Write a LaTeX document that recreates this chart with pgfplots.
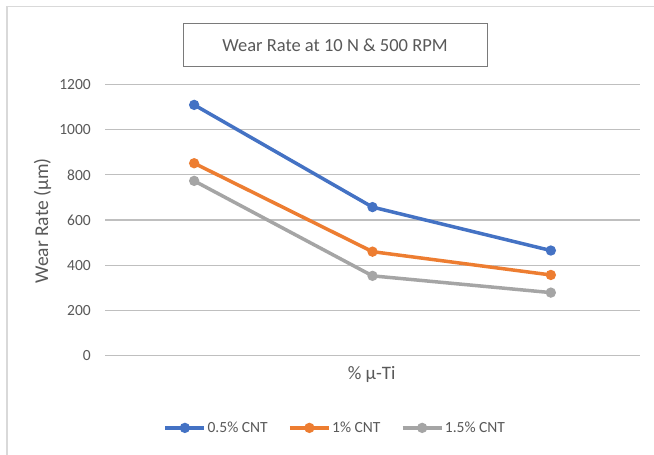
\documentclass[border=0pt]{standalone}
\usepackage{pgfplots}
\pgfplotsset{compat=1.18}
\usepackage{fontspec}
\setmainfont{Carlito}
\definecolor{cblue}{HTML}{4472C4}
\definecolor{corange}{HTML}{ED7D31}
\definecolor{cgray}{HTML}{A5A5A5}
\definecolor{txt}{HTML}{595959}
\definecolor{grid}{HTML}{D9D9D9}
\begin{document}
\begin{tikzpicture}
\useasboundingbox (0,0) rectangle (654bp,455bp);
\fill[white] (0,0) rectangle (654bp,455bp);
\draw[grid, line width=1.5bp] (7bp,0) -- (7bp,448.5bp) -- (654bp,448.5bp);
\begin{axis}[
  at={(105bp,99.3bp)}, anchor=south west,
  scale only axis, width=535bp, height=271.4bp,
  xmin=-0.5, xmax=2.5, ymin=0, ymax=1200,
  xtick=\empty,
  ytick={0,200,...,1200},
  ymajorgrids, grid style={grid, line width=1.3bp},
  axis line style={draw=none},
  major tick length=0pt,
  /pgf/number format/assume math mode=true,
  /pgf/number format/set thousands separator={},
  yticklabel style={font=\fontsize{15.5bp}{18bp}\selectfont, text=txt, inner sep=0pt, anchor=east, xshift=-14bp},
  clip=false,
  legend columns=3,
  legend style={at={(0.43,-0.266)}, anchor=center, draw=none, fill=none,
    font=\fontsize{15.5bp}{18bp}\selectfont, text=txt,
    /tikz/every even column/.append style={column sep=19bp},
    nodes={inner xsep=1.5bp, inner ysep=0pt}},
  legend image code/.code={\draw[mark repeat=2,mark phase=2,#1] plot coordinates {(0bp,0bp) (19.5bp,0bp) (39bp,0bp)};},
  every axis plot/.append style={line width=3.5bp, mark=*, mark size=3.3bp},
]
\addplot[cblue, mark options={fill=cblue}] coordinates {(0,1109) (1,657) (2,465)};
\addlegendentry{0.5\% CNT}
\addplot[corange, mark options={fill=corange}] coordinates {(0,851) (1,460) (2,357)};
\addlegendentry{1\% CNT}
\addplot[cgray, mark options={fill=cgray}] coordinates {(0,773) (1,353) (2,279)};
\addlegendentry{1.5\% CNT}
\end{axis}
\node[draw=txt!80, line width=1bp, minimum width=304bp, minimum height=43bp, text=txt, font=\fontsize{18.5bp}{22bp}\selectfont] at (335bp,409.5bp) {Wear Rate at 10 N \& 500 RPM};
\node[text=txt, font=\fontsize{19bp}{22bp}\selectfont] at (371.7bp,81bp) {\% µ-Ti};
\node[text=txt, rotate=90, font=\fontsize{19.5bp}{22bp}\selectfont] at (42.5bp,234bp) {Wear Rate (µm)};
\end{tikzpicture}
\end{document}
